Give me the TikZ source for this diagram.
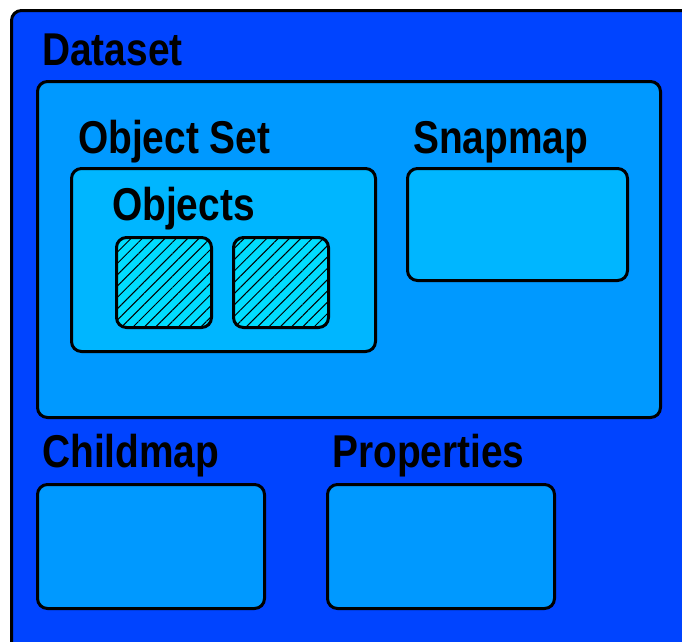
\documentclass[tikz,border=0pt]{standalone}
\usepackage{fontspec}
\newfontfamily\lblfont[FakeStretch=0.845]{Liberation Sans}
\usepackage{tikz}
\usepackage{xcolor}
\usetikzlibrary{patterns.meta}

\definecolor{outerblue}{RGB}{0,68,255}
\definecolor{midblue}{RGB}{0,153,255}
\definecolor{lightblue}{RGB}{0,182,255}
\definecolor{cyanfill}{RGB}{0,221,255}

\begin{document}
\begin{tikzpicture}[x=1pt,y=-1pt,
    box/.style={draw=black, line width=3pt, rounded corners=10pt, inner sep=0pt, anchor=north west},
    lbl/.style={anchor=base west, inner sep=0pt, font=\lblfont\bfseries\fontsize{46}{50}\selectfont},
    hatched/.style={box, fill=cyanfill, postaction={pattern={Lines[angle=45, distance=8pt, line width=1pt]}}}]
                \useasboundingbox (0,0) rectangle (682,641);
                \fill[white] (0,0) rectangle (682,641);
                \clip (0,0) rectangle (682,641);
                \node[box, fill=outerblue, minimum width=720pt, minimum height=680pt] (dataset) at (10,9) {};
                \node[lbl] (datasetlbl) at (42,65) {Dataset};
                \node[box, fill=midblue, minimum width=623pt, minimum height=336pt] (inner) at (36,80) {};
                \node[lbl] (objsetlbl) at (78,153) {Object Set};
                \node[box, fill=lightblue, minimum width=304pt, minimum height=183pt] (objset) at (70,167) {};
                \node[lbl] (objectslbl) at (112,220) {Objects};
                \node[hatched, minimum width=95pt, minimum height=90pt] (obja) at (115,236) {};
                \node[hatched, minimum width=95pt, minimum height=90pt] (objb) at (232,236) {};
                \node[lbl] (snapmaplbl) at (413,153) {Snapmap};
                \node[box, fill=lightblue, minimum width=220pt, minimum height=112pt] (snapmap) at (406,167) {};
                \node[lbl] (childmaplbl) at (42,467) {Childmap};
                \node[box, fill=midblue, minimum width=227pt, minimum height=124pt] (childmap) at (36,483) {};
                \node[lbl] (propertieslbl) at (332,467) {Properties};
                \node[box, fill=midblue, minimum width=227pt, minimum height=124pt] (properties) at (326,483) {};
            \end{tikzpicture}
\end{document}
